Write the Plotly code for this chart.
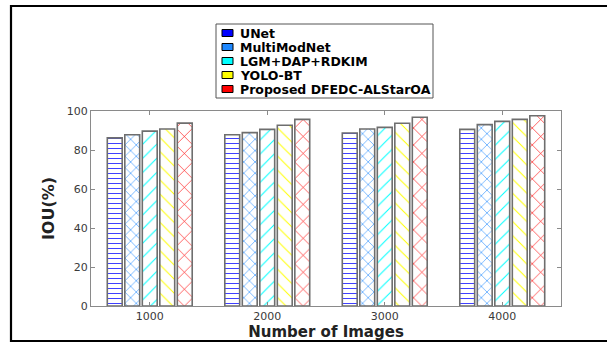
import plotly.graph_objects as go

# Dataset sizes (x categories) and IOU (%) per method
image_counts = ["1000", "2000", "3000", "4000"]
group_pos = [1, 2, 3, 4]

method_names = ["UNet", "MultiModNet", "LGM+DAP+RDKIM", "YOLO-BT", "Proposed DFEDC-ALStarOA"]
iou_unet = [86.2, 87.8, 88.7, 90.6]
iou_multimodnet = [87.8, 88.9, 90.8, 93.0]
iou_lgm = [89.7, 90.6, 91.6, 94.7]
iou_yolo = [90.8, 92.7, 93.7, 95.7]
iou_proposed = [93.8, 95.7, 96.8, 97.6]

y_ticks = [0, 20, 40, 60, 80, 100]

series = [iou_unet, iou_multimodnet, iou_lgm, iou_yolo, iou_proposed]
colors = ["#0000FF", "#1E88FF", "#00FFFF", "#FFFF00", "#FF0000"]
hatches = [("-", 5, 0.15), ("x", 8, 0.14), ("/", 10, 0.1), ("\\", 10, 0.1), ("x", 12, 0.1)]

W, H = 607, 342
L, R, T, B = 91, 46, 111, 36
PW, PH = W - L - R, H - T - B


def px(x):
    return (x - L) / PW


def py(y):
    return (H - B - y) / PH


fig = go.Figure()
for name, vals, col, (shape, size, sol) in zip(method_names, series, colors, hatches):
    fig.add_trace(go.Bar(
        x=group_pos, y=vals, name=name, showlegend=False,
        marker=dict(
            color=col,
            line=dict(color="#6e6e6e", width=1.6),
            pattern=dict(shape=shape, size=size, solidity=sol,
                         fillmode="replace", bgcolor="white", fgcolor=col),
        ),
    ))

font_reg = "DejaVu Sans, Arial, sans-serif"
axis_common = dict(
    showline=True, linecolor="#8a8a8a", linewidth=1, mirror="allticks",
    ticks="inside", ticklen=4, tickcolor="#8a8a8a", showgrid=False, zeroline=False,
    tickfont=dict(family=font_reg, size=11, color="#3a3a3a"),
    automargin=False,
)

fig.update_xaxes(
    range=[0.5, 4.5], tickvals=group_pos, ticktext=image_counts,
    title=dict(text="<b>Number of Images</b>", font=dict(family=font_reg, size=15, color="#222"),
               standoff=4),
    **axis_common,
)
fig.update_yaxes(
    range=[0, 100], tickvals=y_ticks,
    title=dict(text="<b>IOU(%)</b>", font=dict(family=font_reg, size=16, color="#222"),
               standoff=8),
    **axis_common,
)

shapes = []
annotations = []
# outer figure frame
shapes.append(dict(type="rect", xref="paper", yref="paper",
                   x0=px(11), x1=px(W + 10), y0=py(341), y1=py(6),
                   line=dict(color="black", width=2.2), fillcolor="rgba(0,0,0,0)"))
# legend box
shapes.append(dict(type="rect", xref="paper", yref="paper",
                   x0=px(216), x1=px(433), y0=py(98), y1=py(24),
                   line=dict(color="#555555", width=1), fillcolor="white"))
row_y = [33, 47, 61, 75, 89]
for name, col, yc in zip(method_names, colors, row_y):
    shapes.append(dict(type="rect", xref="paper", yref="paper",
                       x0=px(222), x1=px(233), y0=py(yc + 3.5), y1=py(yc - 3.5),
                       line=dict(color="black", width=1), fillcolor=col))
    annotations.append(dict(xref="paper", yref="paper", x=px(238), y=py(yc),
                            xanchor="left", yanchor="middle", showarrow=False,
                            text="<b>%s</b>" % name,
                            font=dict(family=font_reg, size=12.5, color="black")))

fig.update_layout(
    width=W, height=H,
    margin=dict(l=L, r=R, t=T, b=B),
    paper_bgcolor="white", plot_bgcolor="white",
    barmode="group", bargap=0.255, bargroupgap=0.15,
    showlegend=False,
    shapes=shapes, annotations=annotations,
)

fig.write_html("out.html")
